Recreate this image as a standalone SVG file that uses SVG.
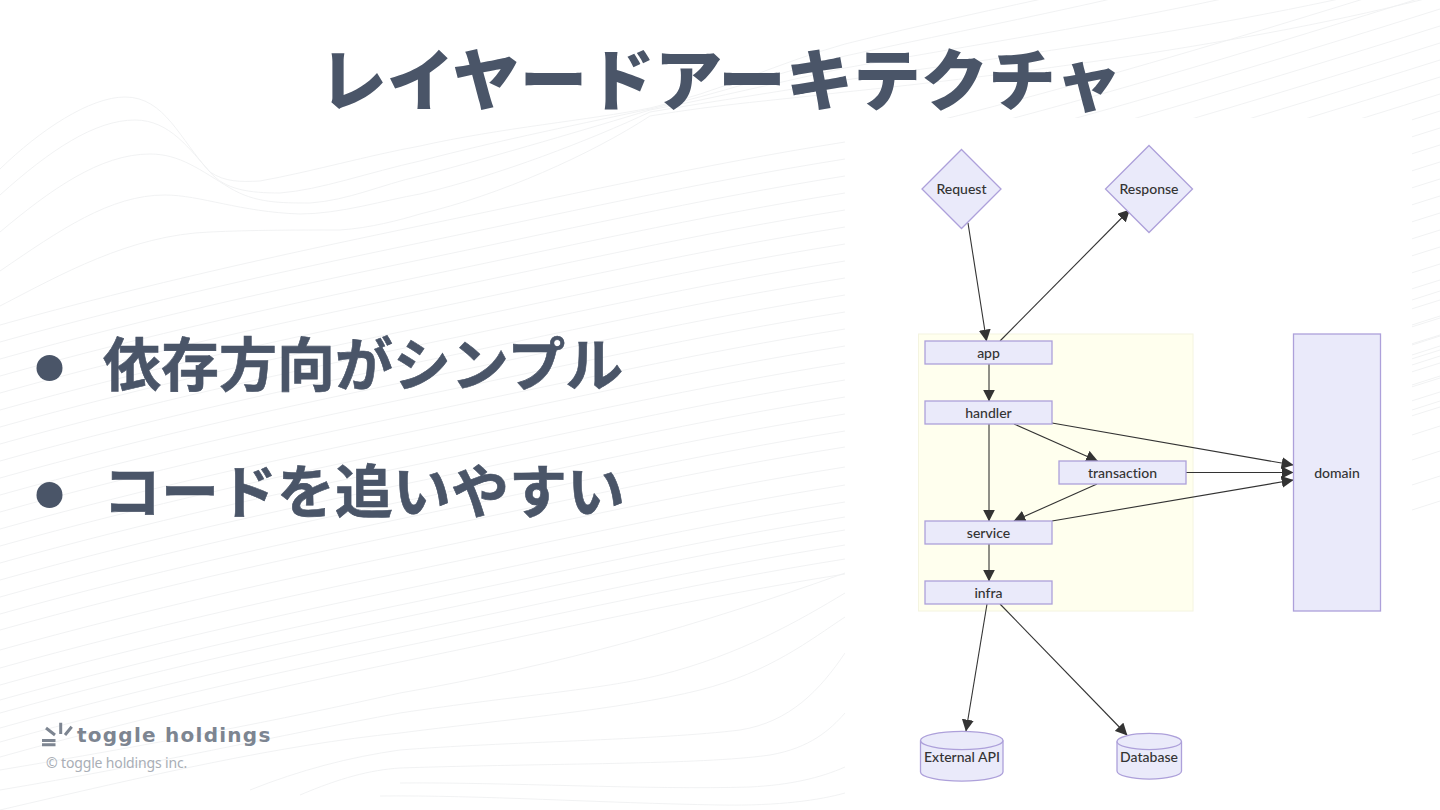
<svg xmlns="http://www.w3.org/2000/svg" width="1440" height="810" viewBox="0 0 1440 810">
<style>
.bg{fill:none;stroke:#eff0f2;stroke-width:.9}
.n{fill:#eaeafa;stroke:#ada0da;stroke-width:1.3}
.o{fill:none;stroke:#ada0da;stroke-width:1.3}
.t{font-family:"Lato","Noto Sans",sans-serif;font-size:14px;font-weight:500;fill:#333;text-anchor:middle;font-variant-ligatures:none}
.c{fill:none;stroke:#333;stroke-width:1.1;marker-end:url(#a)}
.h{font-family:"Noto Sans CJK JP",sans-serif;font-weight:900;fill:#4a5568}
.b{font-family:"Noto Sans CJK JP",sans-serif;font-weight:700;fill:#4a5568;stroke:#4a5568;stroke-width:.6}
</style>
<defs>
<marker id="a" viewBox="0 0 10 10" refX="9.500" refY="5" markerUnits="userSpaceOnUse" markerWidth="12" markerHeight="12" orient="auto"><path d="M0,0L10,5L0,10z" fill="#333"/></marker>
<path id="w" d="M0,0C150,-42 290,-72 400,-95C560,-128 700,-160 845,-183C1000,-215 1250,-290 1440,-350"/>
<path id="s" d="M1412,0l28,-9"/>
</defs>
<rect width="1440" height="810" fill="#fff"/>
<g id="background">
<path class="bg" d="M0,169C40,130 90,97 125,97C165,97 180,140 210,172C225,182 240,182 260,181C310,172 370,155 420,146C500,128 590,120 650,108C720,92 780,62 845,44C1000,5 1150,-20 1280,-60"/>
<path class="bg" d="M0,195C50,150 95,120 135,120C170,120 190,150 210,172C225,190 250,193 280,193C320,190 370,172 420,161C500,140 590,122 650,109C720,94 780,72 845,56C1000,22 1150,-5 1300,-50"/>
<path class="bg" d="M0,232C50,190 100,154 150,154C180,154 200,170 230,188C255,203 280,203 310,203C350,200 380,185 420,176C500,155 590,128 650,110C720,97 780,82 845,68C1000,40 1200,10 1340,-30"/>
<path class="bg" d="M0,271C60,230 110,195 165,195C200,195 240,212 300,214C340,214 385,200 420,194C500,175 590,140 650,112C720,100 780,92 845,80C1000,58 1250,25 1440,-25"/>
<path class="bg" d="M0,306C60,275 130,235 210,232C250,230 300,230 340,230C370,228 400,220 420,214C500,195 590,155 650,116C720,104 780,100 845,92C1000,76 1250,45 1440,-5"/>
<use class="bg" href="#w" y="325"/><use class="bg" href="#w" y="342"/><use class="bg" href="#w" y="359"/><use class="bg" href="#w" y="376"/><use class="bg" href="#w" y="393"/><use class="bg" href="#w" y="410"/><use class="bg" href="#w" y="427"/><use class="bg" href="#w" y="444"/><use class="bg" href="#w" y="461"/><use class="bg" href="#w" y="478"/><use class="bg" href="#w" y="495"/><use class="bg" href="#w" y="512"/><use class="bg" href="#w" y="529"/><use class="bg" href="#w" y="546"/><use class="bg" href="#w" y="563"/><use class="bg" href="#w" y="580"/><use class="bg" href="#w" y="597"/><use class="bg" href="#w" y="614"/><use class="bg" href="#w" y="630"/><use class="bg" href="#w" y="650"/><use class="bg" href="#w" y="668"/><use class="bg" href="#w" y="685"/><use class="bg" href="#w" y="700"/><use class="bg" href="#w" y="713"/><use class="bg" href="#w" y="728"/><use class="bg" href="#w" y="742"/><use class="bg" href="#w" y="757"/>
<path class="bg" d="M0,770C150,745 280,720 400,693C560,665 700,625 845,573"/>
<path class="bg" d="M0,790C150,765 280,735 400,713C520,695 600,690 660,675C740,655 800,620 845,593"/>
<path class="bg" d="M0,810C150,775 280,745 400,733C500,720 620,710 700,690C770,672 810,640 845,617"/>
<path class="bg" d="M250,790C300,770 350,757 400,750C500,742 660,740 740,730C790,722 820,690 845,653"/>
<path class="bg" d="M300,795C340,778 370,770 400,768C550,763 700,765 770,755C810,748 830,730 845,713"/>
<path class="bg" d="M400,783C500,782 650,790 750,787C790,785 820,778 845,767"/>
<path class="bg" d="M380,796C480,795 600,803 720,805C780,806 820,800 845,793"/>
<use class="bg" href="#s" y="300"/><use class="bg" href="#s" y="325"/><use class="bg" href="#s" y="345"/><use class="bg" href="#s" y="355"/><use class="bg" href="#s" y="365"/><use class="bg" href="#s" y="385"/><use class="bg" href="#s" y="410"/><use class="bg" href="#s" y="435"/><use class="bg" href="#s" y="460"/><use class="bg" href="#s" y="485"/><use class="bg" href="#s" y="510"/>
<rect x="845" y="118" width="567" height="692" fill="#fff"/>
</g>
<text class="h" x="721" y="105" font-size="67.500" text-anchor="middle">レイヤードアーキテクチャ</text>
<g id="bullets">
<circle cx="49.500" cy="368" r="13" fill="#4a5568"/><circle cx="49.500" cy="495" r="13" fill="#4a5568"/>
<text class="b" x="103" y="386" font-size="58">依存方向がシンプル</text>
<text class="b" x="103" y="513" font-size="58">コードを追いやすい</text>
</g>
<g id="logo">
<path d="M46,728L55,735M42,740.500h13.500M42,744.800h13.500M60.700,722.700V734M71.700,726.700L65,735" fill="none" stroke="#7d8591" stroke-width="3"/>
<text x="77" y="742" font-family="'DejaVu Sans',sans-serif" font-weight="700" font-size="20" letter-spacing="1.25" fill="#7d8591">toggle holdings</text>
<text x="46" y="768" font-family="'Noto Sans',sans-serif" font-size="14" letter-spacing="-.15" fill="#a9aeb6">© toggle holdings inc.</text>
</g>
<rect id="layers" x="918.500" y="334" width="274.500" height="277" fill="#ffffee" stroke="#f4f4e0"/>
<g id="connectors">
<path class="c" d="M968,223L986.500,341"/>
<path class="c" d="M1000,341L1129.500,210"/>
<path class="c" d="M989,364V401"/>
<path class="c" d="M1014,424L1097.500,461"/>
<path class="c" d="M1052,423L1293,465"/>
<path class="c" d="M989,424V521"/>
<path class="c" d="M1186,472.500H1293"/>
<path class="c" d="M1097,484L1014,521"/>
<path class="c" d="M1052,521L1293,480"/>
<path class="c" d="M989,544V581"/>
<path class="c" d="M987,604L966,731"/>
<path class="c" d="M1000,604L1127,735"/>
</g>
<g id="request"><path class="n" d="M961.500,149.500L1001,189L961.500,228.500L922,189z"/><text class="t" x="961.500" y="193.500">Request</text></g>
<g id="response"><path class="n" d="M1149,145.500L1192.500,189L1149,232.500L1105.500,189z"/><text class="t" x="1149" y="193.500">Response</text></g>
<g id="app"><rect class="n" x="925" y="341" width="127" height="23"/><text class="t" x="988.500" y="357.500">app</text></g>
<g id="handler"><rect class="n" x="925" y="401" width="127" height="23"/><text class="t" x="988.500" y="417.500">handler</text></g>
<g id="transaction"><rect class="n" x="1059" y="461" width="127" height="23"/><text class="t" x="1122.500" y="477.500">transaction</text></g>
<g id="service"><rect class="n" x="925" y="521" width="127" height="23"/><text class="t" x="988.500" y="537.500">service</text></g>
<g id="infra"><rect class="n" x="925" y="581" width="127" height="23"/><text class="t" x="988.500" y="597.500">infra</text></g>
<g id="domain"><rect class="n" x="1293.500" y="334" width="87" height="277"/><text class="t" x="1337" y="477.500">domain</text></g>
<g id="external-api"><path class="n" d="M920.500,740.500A41,9 0 0 1 1003,740.500V772A41,9 0 0 1 920.500,772z"/><path class="o" d="M920.500,740.500A41,9 0 0 0 1003,740.500"/><text class="t" x="962" y="761.500">External API</text></g>
<g id="database"><path class="n" d="M1117,741.500A32,8 0 0 1 1181.500,741.500V771A32,8 0 0 1 1117,771z"/><path class="o" d="M1117,741.500A32,8 0 0 0 1181.500,741.500"/><text class="t" x="1149" y="761.500">Database</text></g>
</svg>
